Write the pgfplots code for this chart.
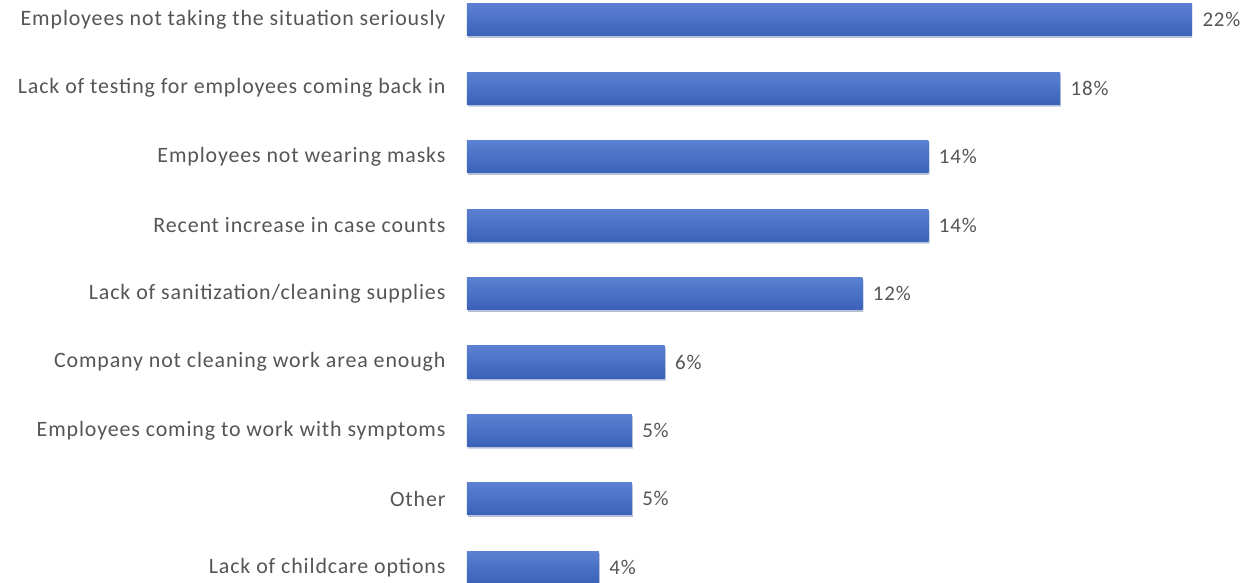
\documentclass[border=0pt]{standalone}
\usepackage{pgfplots}
\pgfplotsset{compat=1.18}
\usepackage{fontspec}
\setmainfont{Carlito}
\newfontfamily\lblfont{Carlito}[LetterSpace=4]
\usetikzlibrary{shadows}
\definecolor{barTop}{HTML}{5B80D2}
\definecolor{barBot}{HTML}{3A62B8}
\definecolor{lbl}{HTML}{555555}
\pgfplotsset{mybar/.style={draw=none, top color=barTop, bottom color=barBot,
  drop shadow={shadow xshift=1bp, shadow yshift=-2bp, opacity=0.25}}}
\begin{document}
\begin{tikzpicture}
\begin{axis}[
  scale only axis,
  width=725bp, height=583bp,
  xmin=0, xmax=22,
  ymin=-0.29, ymax=8.23,
  y dir=reverse,
  axis line style={draw=none},
  xtick=\empty,
  ytick={0,...,8},
  yticklabels={Employees not taking the situation seriously,
    Lack of testing for employees coming back in,
    Employees not wearing masks,
    Recent increase in case counts,
    Lack of sanitization/cleaning supplies,
    Company not cleaning work area enough,
    Employees coming to work with symptoms,
    Other,
    Lack of childcare options},
  major tick length=0pt,
  yticklabel style={font=\lblfont\fontsize{22}{24}\selectfont, text=lbl, xshift=-18bp},
  xbar, bar width=0.47, bar shift=0pt,
  /pgf/number format/assume math mode=true,
  nodes near coords={\pgfmathprintnumber{\pgfplotspointmeta}\%},
  nodes near coords style={font=\lblfont\fontsize{21}{23}\selectfont, text=lbl, xshift=7bp},
  clip=true,
]
\addplot[mybar] coordinates {(22,0)};
\addplot[mybar] coordinates {(18,1)};
\addplot[mybar] coordinates {(14,2)};
\addplot[mybar] coordinates {(14,3)};
\addplot[mybar] coordinates {(12,4)};
\addplot[mybar] coordinates {(6,5)};
\addplot[mybar] coordinates {(5,6)};
\addplot[mybar] coordinates {(5,7)};
\addplot[mybar] coordinates {(4,8)};
\end{axis}
\pgfresetboundingbox
\path[use as bounding box] ([xshift=-467bp]current axis.south west) rectangle ([xshift=60bp]current axis.north east);
\end{tikzpicture}
\end{document}
